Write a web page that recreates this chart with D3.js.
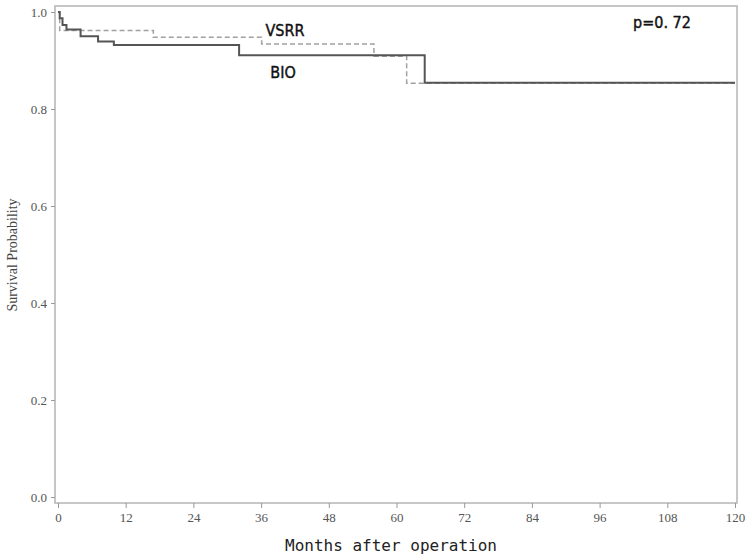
<!DOCTYPE html>
<html>
<head>
<meta charset="utf-8">
<script src="https://cdn.jsdelivr.net/npm/d3@7.9.0/dist/d3.min.js"></script>
<style>
  html, body { margin: 0; padding: 0; background: #fff; }
  svg { display: block; }
</style>
</head>
<body>
<div id="chart"></div>
<script>
/* ── data ──────────────────────────────────────────────────── */
const bioTimes  = [0, 0.3, 0.8, 1.5, 4.0, 7.1, 9.9, 32.1, 65.0, 120];
const bioSurv   = [1.0, 0.987, 0.973, 0.964, 0.950, 0.939, 0.932, 0.911, 0.854, 0.854];
const vsrrTimes = [0, 0.3, 16.9, 36.1, 56.0, 61.8, 120];
const vsrrSurv  = [1.0, 0.962, 0.948, 0.934, 0.909, 0.853, 0.853];
const xTicks = [0, 12, 24, 36, 48, 60, 72, 84, 96, 108, 120];
const yTicks = [0, 0.2, 0.4, 0.6, 0.8, 1.0];

/* ── size ──────────────────────────────────────────────────── */
const width = 747, height = 558;
const frame = { left: 55, right: 737, top: 6, bottom: 503 };

const svg = d3.select('#chart').append('svg')
  .attr('width', width)
  .attr('height', height);

/* ── scales ────────────────────────────────────────────────── */
const x = d3.scaleLinear().domain([0, 120]).range([58, 735]);
const y = d3.scaleLinear().domain([0, 1]).range([497, 12]);

/* frame box */
svg.append('rect')
  .attr('x', frame.left).attr('y', frame.top)
  .attr('width', frame.right - frame.left)
  .attr('height', frame.bottom - frame.top)
  .attr('fill', 'none')
  .attr('stroke', '#b4b4b4')
  .attr('stroke-width', 1.5);

/* axes */
const xAxis = svg.append('g')
  .attr('transform', `translate(0,${frame.bottom})`)
  .call(d3.axisBottom(x).tickValues(xTicks).tickSize(5).tickPadding(5).tickSizeOuter(0));
const yAxis = svg.append('g')
  .attr('transform', `translate(${frame.left},0)`)
  .call(d3.axisLeft(y).tickValues(yTicks).tickSize(4).tickPadding(4).tickSizeOuter(0)
        .tickFormat(d3.format('.1f')));

[xAxis, yAxis].forEach(g => {
  g.select('.domain').remove();
  g.selectAll('.tick line').attr('stroke', '#999');
  g.selectAll('.tick text')
    .attr('fill', '#555')
    .style('font-family', '"Liberation Serif", "Times New Roman", serif')
    .style('font-size', '13px');
});

/* curves */
const step = d3.line()
  .x(d => x(d[0]))
  .y(d => y(d[1]))
  .curve(d3.curveStepAfter);

svg.append('path')
  .datum(d3.zip(vsrrTimes, vsrrSurv))
  .attr('d', step)
  .attr('fill', 'none')
  .attr('stroke', '#a0a0a0')
  .attr('stroke-width', 1.5)
  .attr('stroke-dasharray', '5,3');

svg.append('path')
  .datum(d3.zip(bioTimes, bioSurv))
  .attr('d', step)
  .attr('fill', 'none')
  .attr('stroke', '#555')
  .attr('stroke-width', 2);

/* annotations */
const annot = svg.append('g')
  .style('font-family', '"DejaVu Sans", sans-serif')
  .style('font-stretch', 'condensed')
  .style('font-size', '16px')
  .attr('fill', '#111')
  .attr('stroke', '#111')
  .attr('stroke-width', 0.4);

annot.append('text').attr('x', 285).attr('y', 36).attr('text-anchor', 'middle').text('VSRR');
annot.append('text').attr('x', 283).attr('y', 78).attr('text-anchor', 'middle').text('BIO');
annot.append('text').attr('x', 662).attr('y', 28).attr('text-anchor', 'middle').text('p=0. 72');

/* axis labels */
svg.append('text')
  .attr('x', 391).attr('y', 551)
  .attr('text-anchor', 'middle')
  .attr('fill', '#222')
  .style('font-family', '"DejaVu Sans Mono", monospace')
  .style('font-size', '16px')
  .text('Months after operation');

svg.append('text')
  .attr('transform', 'translate(17,255) rotate(-90)')
  .attr('text-anchor', 'middle')
  .attr('fill', '#444')
  .style('font-family', '"Liberation Serif", "Times New Roman", serif')
  .style('font-size', '14px')
  .text('Survival Probability');
</script>
</body>
</html>
